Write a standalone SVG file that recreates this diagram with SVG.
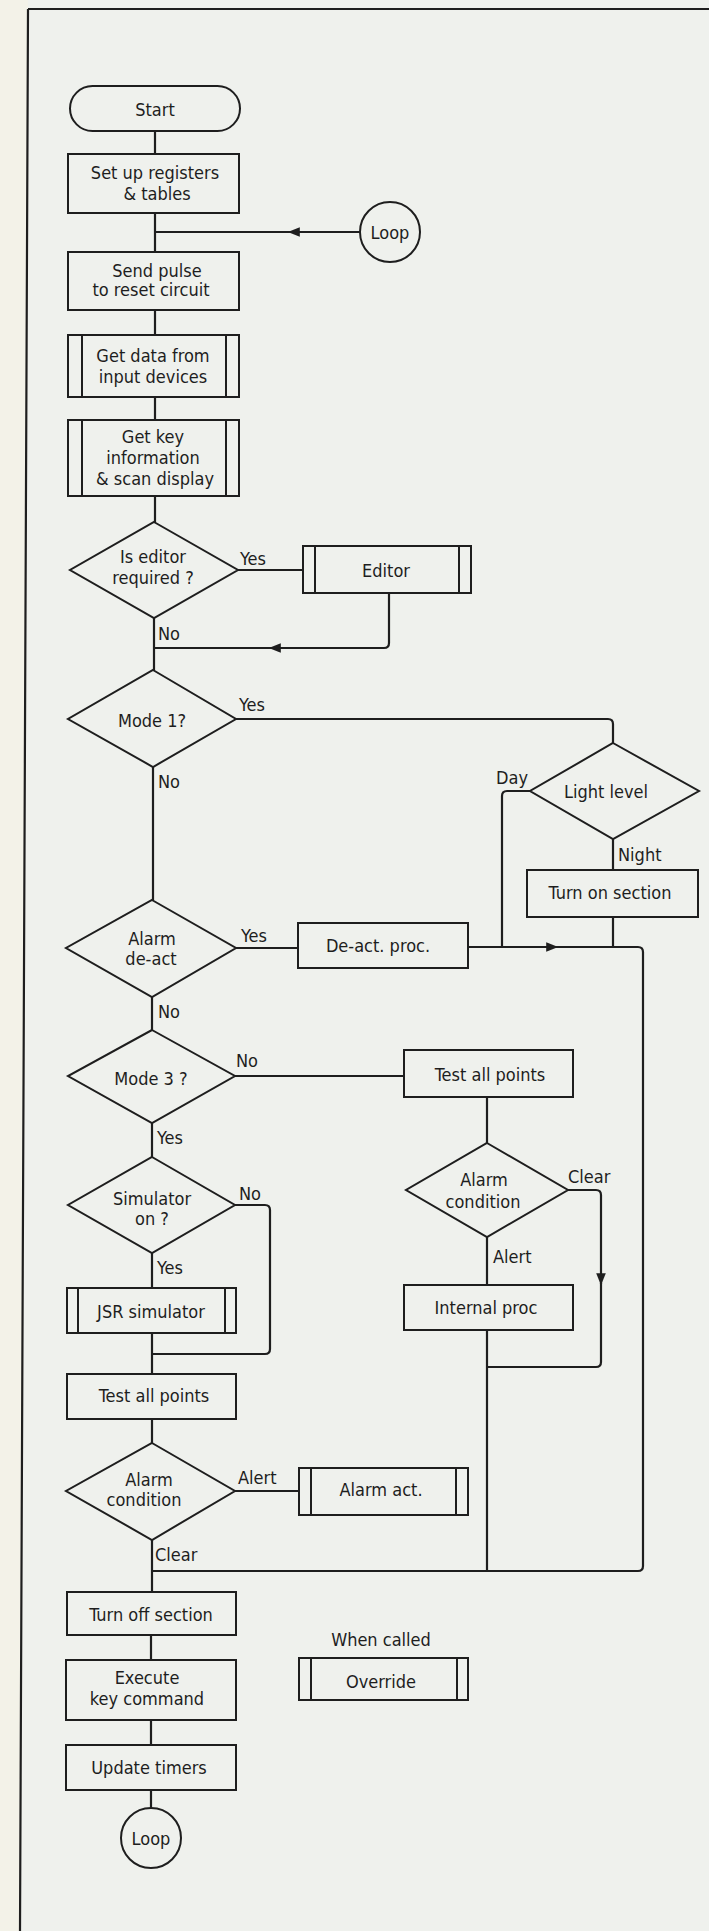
<svg xmlns="http://www.w3.org/2000/svg" width="709" height="1931" viewBox="0 0 709 1931">
<defs>
<style>
.bx{fill:none;stroke:#1e1e1e;stroke-width:2}
.cn{fill:none;stroke:#1e1e1e;stroke-width:2.2}
.t{font-family:"DejaVu Sans Condensed","DejaVu Sans","Liberation Sans",sans-serif;font-stretch:condensed;font-size:18px;fill:#1e1e1e;text-anchor:middle}
.l{text-anchor:start}
</style>
<marker id="ah" viewBox="0 0 10 10" refX="9" refY="5" markerWidth="13" markerHeight="12" markerUnits="userSpaceOnUse" orient="auto">
<path d="M0,1 L10,5 L0,9 Z" fill="#1e1e1e"/>
</marker>
</defs>
<rect x="0" y="0" width="709" height="1931" fill="#eff1ed"/>
<polygon points="0,0 28,0 28,9 20,1931 0,1931" fill="#f3f2e8"/>
<g id="border">
<path class="cn" d="M28,9 H709 M28,9 L20,1931"/>
</g>
<g id="connectors">
<path class="cn" d="M155,131 V154 M155,213 V252"/>
<path class="cn" d="M361,232 H289" marker-end="url(#ah)"/>
<path class="cn" d="M290,232 H155"/>
<path class="cn" d="M155,310 V335 M155,397 V420 M155,496 V522"/>
<path class="cn" d="M238,570 H303"/>
<path class="cn" d="M389,593 V643 Q389,648 384,648 H270" marker-end="url(#ah)"/>
<path class="cn" d="M271,648 H154"/>
<path class="cn" d="M154,618 V670"/>
<path class="cn" d="M236,719 H608 Q613,719 613,724 V743"/>
<path class="cn" d="M530,791 H507 Q502,791 502,796 V947"/>
<path class="cn" d="M613,839 V870 M613,917 V947"/>
<path class="cn" d="M153,767 V900"/>
<path class="cn" d="M236,948 H298"/>
<path class="cn" d="M468,947 H557" marker-end="url(#ah)"/>
<path class="cn" d="M556,947 H638 Q643,947 643,952 V1566 Q643,1571 638,1571 H152"/>
<path class="cn" d="M152,997 V1030"/>
<path class="cn" d="M235,1076 H404"/>
<path class="cn" d="M487,1097 V1143"/>
<path class="cn" d="M568,1190 H596 Q601,1190 601,1195 V1284" marker-end="url(#ah)"/>
<path class="cn" d="M601,1283 V1362 Q601,1367 596,1367 H487"/>
<path class="cn" d="M487,1237 V1285 M487,1330 V1571"/>
<path class="cn" d="M152,1123 V1157"/>
<path class="cn" d="M235,1205 H265 Q270,1205 270,1210 V1349 Q270,1354 265,1354 H152"/>
<path class="cn" d="M152,1253 V1288 M152,1333 V1374 M152,1419 V1443"/>
<path class="cn" d="M235,1491 H299"/>
<path class="cn" d="M152,1540 V1592 M151,1635 V1660 M151,1720 V1745 M151,1790 V1808"/>
</g>
<g id="start">
<rect class="bx" x="70" y="86" width="170" height="45" rx="22.5"/>
<text class="t" x="155" y="116">Start</text>
</g>
<g id="setup">
<rect class="bx" x="68" y="154" width="171" height="59"/>
<text class="t" x="155" y="179">Set up registers</text>
<text class="t" x="157" y="200">&amp; tables</text>
</g>
<g id="loop-in">
<circle class="bx" cx="390" cy="232" r="30"/>
<text class="t" x="390" y="239">Loop</text>
</g>
<g id="sendpulse">
<rect class="bx" x="68" y="252" width="171" height="58"/>
<text class="t" x="157" y="277">Send pulse</text>
<text class="t" x="151" y="296">to reset circuit</text>
</g>
<g id="getdata">
<rect class="bx" x="68" y="335" width="171" height="62"/>
<path class="bx" d="M82,335 V397 M226,335 V397"/>
<text class="t" x="153" y="362">Get data from</text>
<text class="t" x="153" y="383">input devices</text>
</g>
<g id="getkey">
<rect class="bx" x="68" y="420" width="171" height="76"/>
<path class="bx" d="M82,420 V496 M226,420 V496"/>
<text class="t" x="153" y="443">Get key</text>
<text class="t" x="153" y="464">information</text>
<text class="t" x="155" y="485">&amp; scan display</text>
</g>
<g id="iseditor">
<polygon class="bx" points="154,522 238,570 154,618 70,570"/>
<text class="t" x="153" y="563">Is editor</text>
<text class="t" x="153" y="584">required ?</text>
<text class="t l" x="240" y="565">Yes</text>
<text class="t l" x="158" y="640">No</text>
</g>
<g id="editor">
<rect class="bx" x="303" y="546" width="168" height="47"/>
<path class="bx" d="M315,546 V593 M459,546 V593"/>
<text class="t" x="386" y="577">Editor</text>
</g>
<g id="mode1">
<polygon class="bx" points="153,670 236,719 153,767 68,719"/>
<text class="t" x="152" y="727">Mode 1?</text>
<text class="t l" x="239" y="711">Yes</text>
<text class="t l" x="158" y="788">No</text>
</g>
<g id="lightlevel">
<polygon class="bx" points="613,743 699,791 613,839 530,791"/>
<text class="t" x="606" y="798">Light level</text>
<text class="t l" x="496" y="784">Day</text>
<text class="t l" x="618" y="861">Night</text>
</g>
<g id="turnon">
<rect class="bx" x="527" y="870" width="171" height="47"/>
<text class="t" x="610" y="899">Turn on section</text>
</g>
<g id="alarmdeact">
<polygon class="bx" points="152,900 236,948 152,997 66,948"/>
<text class="t" x="152" y="945">Alarm</text>
<text class="t" x="151" y="965">de-act</text>
<text class="t l" x="241" y="942">Yes</text>
<text class="t l" x="158" y="1018">No</text>
</g>
<g id="deactproc">
<rect class="bx" x="298" y="923" width="170" height="45"/>
<text class="t" x="378" y="952">De-act. proc.</text>
</g>
<g id="mode3">
<polygon class="bx" points="152,1030 235,1076 152,1123 68,1076"/>
<text class="t" x="151" y="1085">Mode 3 ?</text>
<text class="t l" x="236" y="1067">No</text>
<text class="t l" x="157" y="1144">Yes</text>
</g>
<g id="testall-r">
<rect class="bx" x="404" y="1050" width="169" height="47"/>
<text class="t" x="490" y="1081">Test all points</text>
</g>
<g id="alarmcond-r">
<polygon class="bx" points="487,1143 568,1190 487,1237 406,1190"/>
<text class="t" x="484" y="1186">Alarm</text>
<text class="t" x="483" y="1208">condition</text>
<text class="t l" x="568" y="1183">Clear</text>
<text class="t l" x="493" y="1263">Alert</text>
</g>
<g id="internalproc">
<rect class="bx" x="404" y="1285" width="169" height="45"/>
<text class="t" x="486" y="1314">Internal proc</text>
</g>
<g id="simulator">
<polygon class="bx" points="152,1157 235,1205 152,1253 68,1205"/>
<text class="t" x="152" y="1205">Simulator</text>
<text class="t" x="152" y="1225">on ?</text>
<text class="t l" x="239" y="1200">No</text>
<text class="t l" x="157" y="1274">Yes</text>
</g>
<g id="jsr">
<rect class="bx" x="67" y="1288" width="169" height="45"/>
<path class="bx" d="M78,1288 V1333 M225,1288 V1333"/>
<text class="t" x="151" y="1318">JSR simulator</text>
</g>
<g id="testall-l">
<rect class="bx" x="67" y="1374" width="169" height="45"/>
<text class="t" x="154" y="1402">Test all points</text>
</g>
<g id="alarmcond-l">
<polygon class="bx" points="152,1443 235,1491 152,1540 66,1491"/>
<text class="t" x="149" y="1486">Alarm</text>
<text class="t" x="144" y="1506">condition</text>
<text class="t l" x="238" y="1484">Alert</text>
<text class="t l" x="155" y="1561">Clear</text>
</g>
<g id="alarmact">
<rect class="bx" x="299" y="1468" width="169" height="47"/>
<path class="bx" d="M311,1468 V1515 M456,1468 V1515"/>
<text class="t" x="381" y="1496">Alarm act.</text>
</g>
<g id="turnoff">
<rect class="bx" x="67" y="1592" width="169" height="43"/>
<text class="t" x="151" y="1621">Turn off section</text>
</g>
<g id="execute">
<rect class="bx" x="66" y="1660" width="170" height="60"/>
<text class="t" x="147" y="1684">Execute</text>
<text class="t" x="147" y="1705">key command</text>
</g>
<g id="update">
<rect class="bx" x="66" y="1745" width="170" height="45"/>
<text class="t" x="149" y="1774">Update timers</text>
</g>
<g id="loop-out">
<circle class="bx" cx="151" cy="1838" r="30"/>
<text class="t" x="151" y="1845">Loop</text>
</g>
<g id="override">
<text class="t" x="381" y="1646">When called</text>
<rect class="bx" x="299" y="1658" width="169" height="42"/>
<path class="bx" d="M311,1658 V1700 M457,1658 V1700"/>
<text class="t" x="381" y="1688">Override</text>
</g>
</svg>
